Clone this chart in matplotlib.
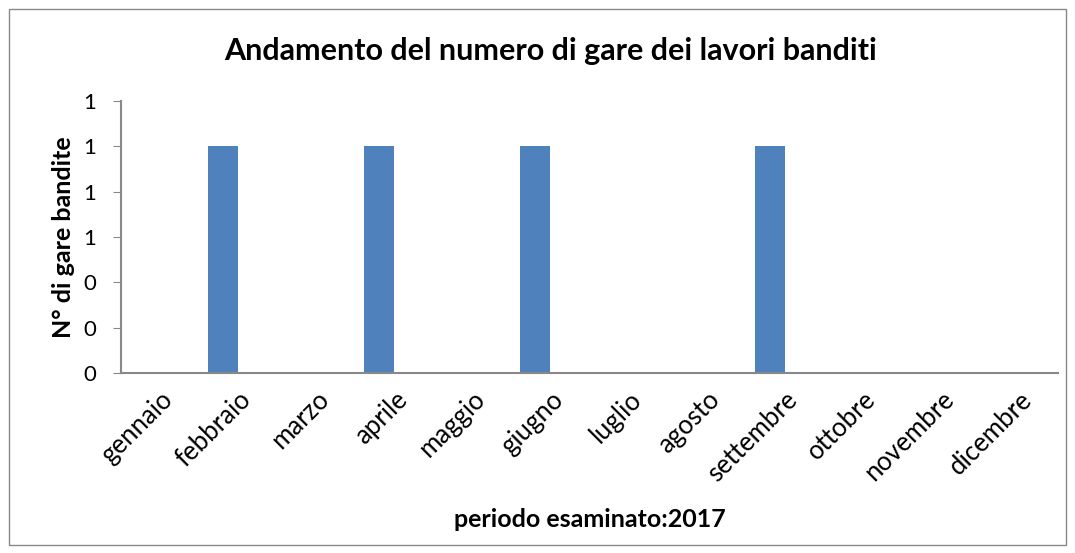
import numpy as np
import matplotlib.pyplot as plt
from matplotlib.ticker import FormatStrFormatter
from matplotlib.patches import Rectangle

mesi = ['gennaio', 'febbraio', 'marzo', 'aprile', 'maggio', 'giugno',
        'luglio', 'agosto', 'settembre', 'ottobre', 'novembre', 'dicembre']
gare = [0, 1, 0, 1, 0, 1, 0, 0, 1, 0, 0, 0]
y_ticks = [0, 0.2, 0.4, 0.6, 0.8, 1.0, 1.2]

plt.rcParams['font.family'] = ['Lato', 'DejaVu Sans']

fig = plt.figure(figsize=(10.75, 5.53), dpi=100)
ax = fig.add_axes([0.1126, 0.3255, 0.8716, 0.4919])

# outer chart border, like the Excel chart area
fig.patches.append(Rectangle((9 / 1075, 8 / 553), 1057 / 1075, 536 / 553,
                             transform=fig.transFigure, fill=False,
                             edgecolor='#888888', linewidth=1.0))

x = np.arange(len(mesi))
w = 0.385
ax.bar(x - w / 2, gare, width=w, color='#4F81BD')

ax.set_xlim(-0.5, len(mesi) - 0.5)
ax.set_ylim(0, 1.2)
ax.set_yticks(y_ticks)
ax.yaxis.set_major_formatter(FormatStrFormatter('%.0f'))
ax.set_xticks(x)
ax.set_xticklabels(mesi, rotation=45, ha='right', rotation_mode='anchor', fontsize=18.5)

for s in ['top', 'right']:
    ax.spines[s].set_visible(False)
for s in ['left', 'bottom']:
    ax.spines[s].set_color('#888888')
    ax.spines[s].set_linewidth(1.5)
ax.tick_params(axis='y', length=6, color='#888888', labelsize=16, pad=12)
ax.tick_params(axis='x', length=0, pad=10)

fig.text(0.512, 0.908, 'Andamento del numero di gare dei lavori banditi',
         fontsize=22, fontweight='bold', ha='center', va='center')
ax.set_ylabel('N° di gare bandite', fontsize=18, fontweight='bold', labelpad=6)
fig.text(0.549, 0.06, 'periodo esaminato:2017', fontsize=18, fontweight='bold',
         ha='center', va='center')

plt.savefig('out.png', dpi=100)
